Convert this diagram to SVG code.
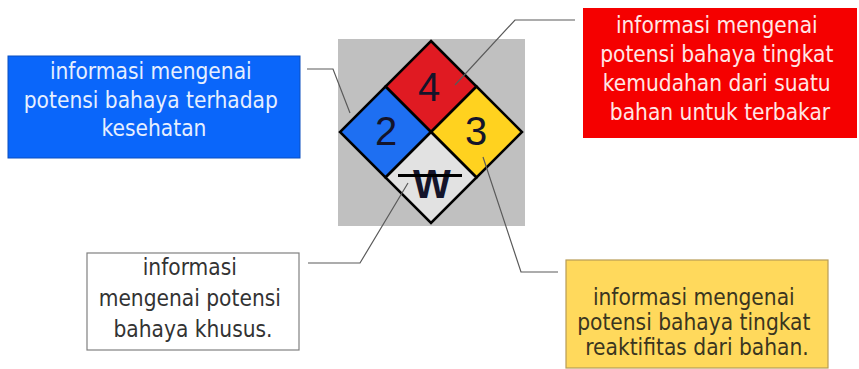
<svg xmlns="http://www.w3.org/2000/svg" width="859" height="369" viewBox="0 0 859 369">
  <style>
    .lbl { font-family: "DejaVu Sans Condensed", "DejaVu Sans", sans-serif; font-stretch: condensed; font-size: 22.5px; text-anchor: middle; }
    .num { font-family: "Liberation Sans", Arial, sans-serif; font-size: 40px; fill: #14142a; text-anchor: middle; }
    .leader { fill: none; stroke: #5a5a5a; stroke-width: 1.2; }
    .cell { stroke: #000; stroke-width: 2.5; stroke-linejoin: miter; }
  </style>
  <rect width="859" height="369" fill="#ffffff"/>

  <!-- hazard diamond -->
  <g id="diamond">
    <rect x="338" y="39" width="187" height="187" fill="#c0c0c0"/>
    <polygon class="cell" points="431,41 476.5,86.5 431,132 385.5,86.5" fill="#e01a22"/>
    <polygon class="cell" points="385.5,86.5 431,132 385.5,177.5 340,132" fill="#1e6ff2"/>
    <polygon class="cell" points="476.5,86.5 522,132 476.5,177.5 431,132" fill="#ffd21f"/>
    <polygon class="cell" points="431,132 476.5,177.5 431,223 385.5,177.5" fill="#e2e2e2"/>
    <text class="num" x="429" y="101">4</text>
    <text class="num" x="386" y="145">2</text>
    <text class="num" x="476" y="145">3</text>
    <text class="num" x="432" y="198" font-size="44" font-weight="bold" fill="#000">W</text>
    <line x1="398" y1="175.5" x2="462" y2="175.5" stroke="#000" stroke-width="3"/>
  </g>

  <!-- leader lines -->
  <g id="connectors">
    <path class="leader" d="M307,69 H333 L350,113"/>
    <path class="leader" d="M575,20 H515 L455,85"/>
    <path class="leader" d="M308,263 H360 L408,183"/>
    <path class="leader" d="M558,272 H521 L483,157"/>
  </g>

  <g id="health">
    <rect x="8" y="56" width="292" height="102" fill="#0a66fa" stroke="#0a4fc0" stroke-width="1"/>
    <text class="lbl" fill="#e6efff">
      <tspan x="154" y="79">informasi mengenai</tspan>
      <tspan x="154" y="108">potensi bahaya terhadap</tspan>
      <tspan x="154" y="136">kesehatan</tspan>
    </text>
  </g>

  <g id="flammability">
    <rect x="583" y="8" width="274" height="130" fill="#f50000"/>
    <text class="lbl" fill="#ffe6e6">
      <tspan x="720" y="33">informasi mengenai</tspan>
      <tspan x="720" y="62">potensi bahaya tingkat</tspan>
      <tspan x="720" y="91">kemudahan dari suatu</tspan>
      <tspan x="720" y="120">bahan untuk terbakar</tspan>
    </text>
  </g>

  <g id="special">
    <rect x="87" y="253" width="212" height="97" fill="#ffffff" stroke="#808080" stroke-width="1.2"/>
    <text class="lbl" fill="#333333">
      <tspan x="193" y="275">informasi</tspan>
      <tspan x="193" y="306">mengenai potensi</tspan>
      <tspan x="193" y="337">bahaya khusus.</tspan>
    </text>
  </g>

  <g id="reactivity">
    <rect x="566" y="260" width="262" height="108" fill="#ffd95c" stroke="#b89c55" stroke-width="1.2"/>
    <text class="lbl" fill="#3a3520">
      <tspan x="697" y="305">informasi mengenai</tspan>
      <tspan x="697" y="330">potensi bahaya tingkat</tspan>
      <tspan x="697" y="355">reaktifitas dari bahan.</tspan>
    </text>
  </g>
</svg>
